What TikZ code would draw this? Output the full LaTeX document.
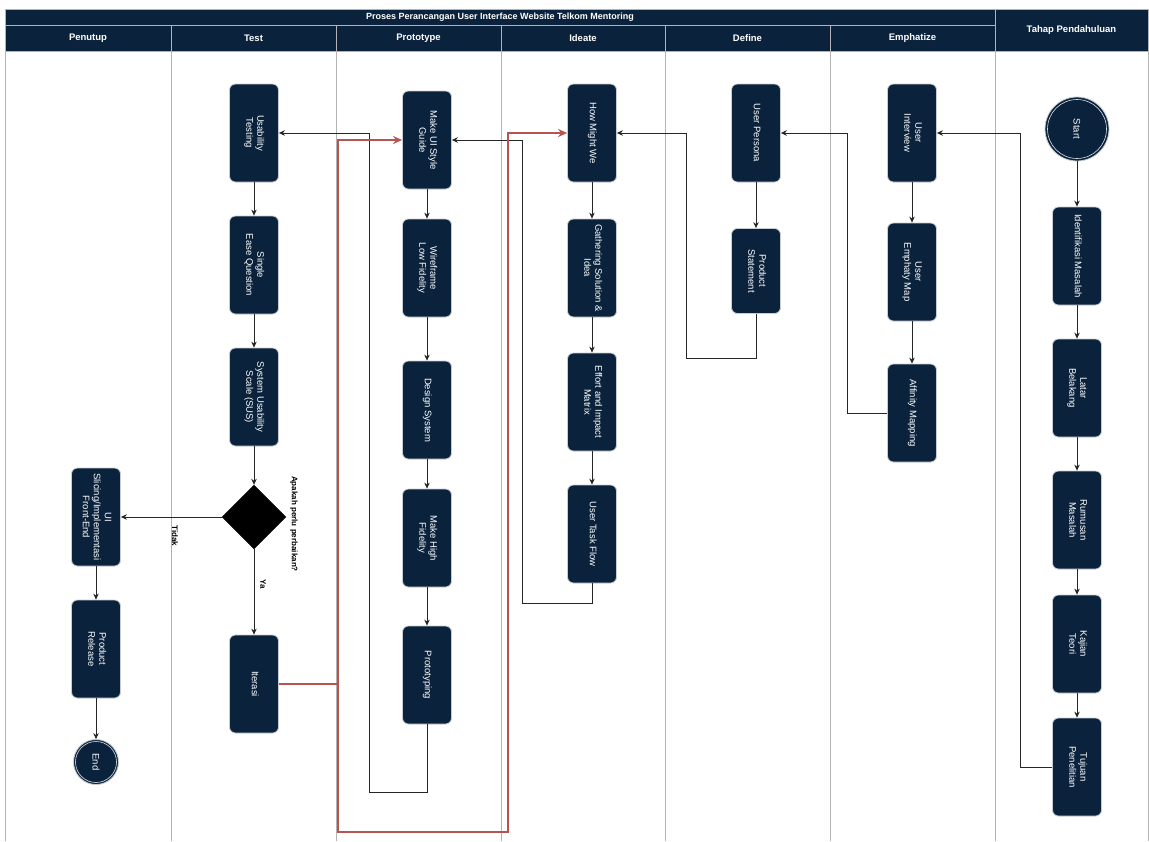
\documentclass[tikz,border=0pt]{standalone}
\usepackage{fontspec}
\setmainfont{Liberation Sans}
\usepackage{graphicx}
\usetikzlibrary{shapes.geometric,arrows.meta}
\definecolor{navy}{HTML}{0A223C}
\definecolor{laneline}{HTML}{B3B3B3}
\definecolor{nodeborder}{HTML}{C8CCD2}
\definecolor{redline}{HTML}{B85450}
\newcommand{\vtext}[1]{\rotatebox{-90}{\begin{tabular}{@{}c@{}}#1\end{tabular}}}
\tikzset{
  lane/.style={draw=laneline, line width=1pt},
  hdr/.style={draw=laneline, line width=0.8pt, fill=navy, text=white, inner sep=0pt,
    font=\fontsize{9.5}{11}\selectfont\bfseries},
  box/.style={draw=nodeborder, line width=0.8pt, fill=navy, rounded corners=6pt,
    minimum width=49pt, minimum height=98pt, inner sep=0pt, text=white,
    font=\fontsize{9.5}{11}\selectfont},
  term/.style={circle, draw=nodeborder, line width=0.8pt, fill=navy, inner sep=0pt, text=white,
    font=\fontsize{9.5}{11}\selectfont},
  ring/.style={draw=white!85!navy, line width=0.6pt},
  decision/.style={diamond, fill=black, draw=black, minimum width=64pt, minimum height=64pt, inner sep=0pt},
  arr/.style={draw=black!85, line width=0.8pt, -{Stealth[length=6pt,width=5.5pt]}},
  redarr/.style={draw=redline, line width=1.5pt, -{Stealth[length=9pt,width=8pt]}},
  lbl/.style={inner sep=0pt, text=black, font=\fontsize{8}{9.5}\selectfont\bfseries},
}
\begin{document}
\begin{tikzpicture}[x=1pt,y=-1pt]
\useasboundingbox[fill=white] (0,0) rectangle (1149,841);

% lanes
\foreach \xx in {5,171,336,501,665,830,995,1148}{
  \draw[lane] (\xx,51) -- (\xx,841);
}
% headers
\node[hdr, minimum width=990pt, minimum height=16pt] (title) at (500,17) {\fontsize{9}{10}\selectfont\bfseries Proses Perancangan User Interface Website Telkom Mentoring};
\node[hdr, minimum width=166pt, minimum height=26pt] (hpenutup) at (88,38) {Penutup};
\node[hdr, minimum width=165pt, minimum height=26pt] (htest) at (253.5,38) {Test};
\node[hdr, minimum width=165pt, minimum height=26pt] (hproto) at (418.5,38) {Prototype};
\node[hdr, minimum width=164pt, minimum height=26pt] (hideate) at (583,38) {Ideate};
\node[hdr, minimum width=165pt, minimum height=26pt] (hdefine) at (747.5,38) {Define};
\node[hdr, minimum width=165pt, minimum height=26pt] (hemph) at (912.5,38) {Emphatize};
\node[hdr, minimum width=153pt, minimum height=42pt] (htahap) at (1071.5,30) {Tahap Pendahuluan};

% Tahap Pendahuluan
\node[term, minimum size=64pt] (start) at (1077,129) {\rotatebox{-90}{Start}};
\draw[ring] (start.center) circle (29.5pt);
\node[box] (idm) at (1077,256) {\vtext{Identifikasi Masalah}};
\node[box] (latar) at (1077,388) {\vtext{Latar\\Belakang}};
\node[box] (rumusan) at (1077,520) {\vtext{Rumusan\\Masalah}};
\node[box] (kajian) at (1077,644) {\vtext{Kajian\\Teori}};
\node[box] (tujuan) at (1077,767) {\vtext{Tujuan\\Penelitian}};

% Emphatize
\node[box] (interview) at (912,133) {\vtext{User\\Interview}};
\node[box] (empathy) at (912,272) {\vtext{User\\Emphaty Map}};
\node[box] (affinity) at (912,413) {\vtext{Affinity Mapping}};

% Define
\node[box] (persona) at (756,133) {\vtext{User Persona}};
\node[box, minimum height=85pt] (pstatement) at (756,271) {\vtext{Product\\Statement}};

% Ideate
\node[box] (hmw) at (592,133) {\vtext{How Might We}};
\node[box] (gather) at (592,268) {\vtext{Gathering Solution \&\\Idea}};
\node[box] (effort) at (592,402) {\vtext{Effort and Impact\\Matrix}};
\node[box] (taskflow) at (592,534) {\vtext{User Task Flow}};

% Prototype
\node[box] (styleguide) at (427,140) {\vtext{Make UI Style\\Guide}};
\node[box] (wireframe) at (427,268) {\vtext{Wireframe\\Low Fidelity}};
\node[box] (dsys) at (427,410) {\vtext{Design System}};
\node[box] (hifi) at (427,538) {\vtext{Make High\\Fidelity}};
\node[box] (prototyping) at (427,675) {\vtext{Prototyping}};

% Test
\node[box] (usability) at (254,133) {\vtext{Usability\\Testing}};
\node[box] (seq) at (254,265) {\vtext{Single\\Ease Question}};
\node[box] (sus) at (254,397) {\vtext{System Usability\\Scale (SUS)}};
\node[decision] (dec) at (254,517) {};
\node[box] (iterasi) at (254,684) {\vtext{Iterasi}};
\node[lbl] (qlabel) at (294,524) {\rotatebox{-90}{Apakah perlu perbaikan?}};

% Penutup
\node[box] (slicing) at (96,517) {\vtext{UI\\Slicing/Implementasi\\Front-End}};
\node[box] (release) at (96,649) {\vtext{Product\\Release}};
\node[term, minimum size=45pt] (endc) at (96,762) {\rotatebox{-90}{End}};
\draw[ring] (endc.center) circle (20.5pt);

% connectors: Tahap Pendahuluan
\draw[arr] (start) -- (idm);
\draw[arr] (idm) -- (latar);
\draw[arr] (latar) -- (rumusan);
\draw[arr] (rumusan) -- (kajian);
\draw[arr] (kajian) -- (tujuan);
\draw[arr] (tujuan.west) -- ++(-32,0) |- (interview.east);

% Emphatize
\draw[arr] (interview) -- (empathy);
\draw[arr] (empathy) -- (affinity);
\draw[arr] (affinity.west) -- ++(-40,0) |- (persona.east);

% Define
\draw[arr] (persona) -- (pstatement);
\draw[arr] (pstatement.south) -- ++(0,44) -- ++(-70,0) |- (hmw.east);

% Ideate
\draw[arr] (hmw) -- (gather);
\draw[arr] (gather) -- (effort);
\draw[arr] (effort) -- (taskflow);
\draw[arr] (taskflow.south) -- ++(0,20) -- ++(-70,0) |- (styleguide.east);

% Prototype
\draw[arr] (styleguide) -- (wireframe);
\draw[arr] (wireframe) -- (dsys);
\draw[arr] (dsys) -- (hifi);
\draw[arr] (hifi) -- (prototyping);
\draw[arr] (prototyping.south) -- ++(0,68) -- ++(-58,0) |- (usability.east);

% Test
\draw[arr] (usability) -- (seq);
\draw[arr] (seq) -- (sus);
\draw[arr] (sus) -- (dec);
\draw[arr] (dec.west) -- (slicing.east);
\node[lbl] (tidak) at (175,536) {\rotatebox{-90}{Tidak}};
\draw[arr] (dec.south) -- (iterasi.north);
\node[lbl] (ya) at (263,584) {\rotatebox{-90}{Ya}};

% Iterasi (red)
\draw[redarr] (iterasi.east) -- ++(59,0) |- (styleguide.west);
\draw[redarr] (iterasi.east) -- ++(59,0) -- ++(0,148) -- ++(170,0) |- (hmw.west);

% Penutup
\draw[arr] (slicing) -- (release);
\draw[arr] (release) -- (endc);
\end{tikzpicture}
\end{document}
